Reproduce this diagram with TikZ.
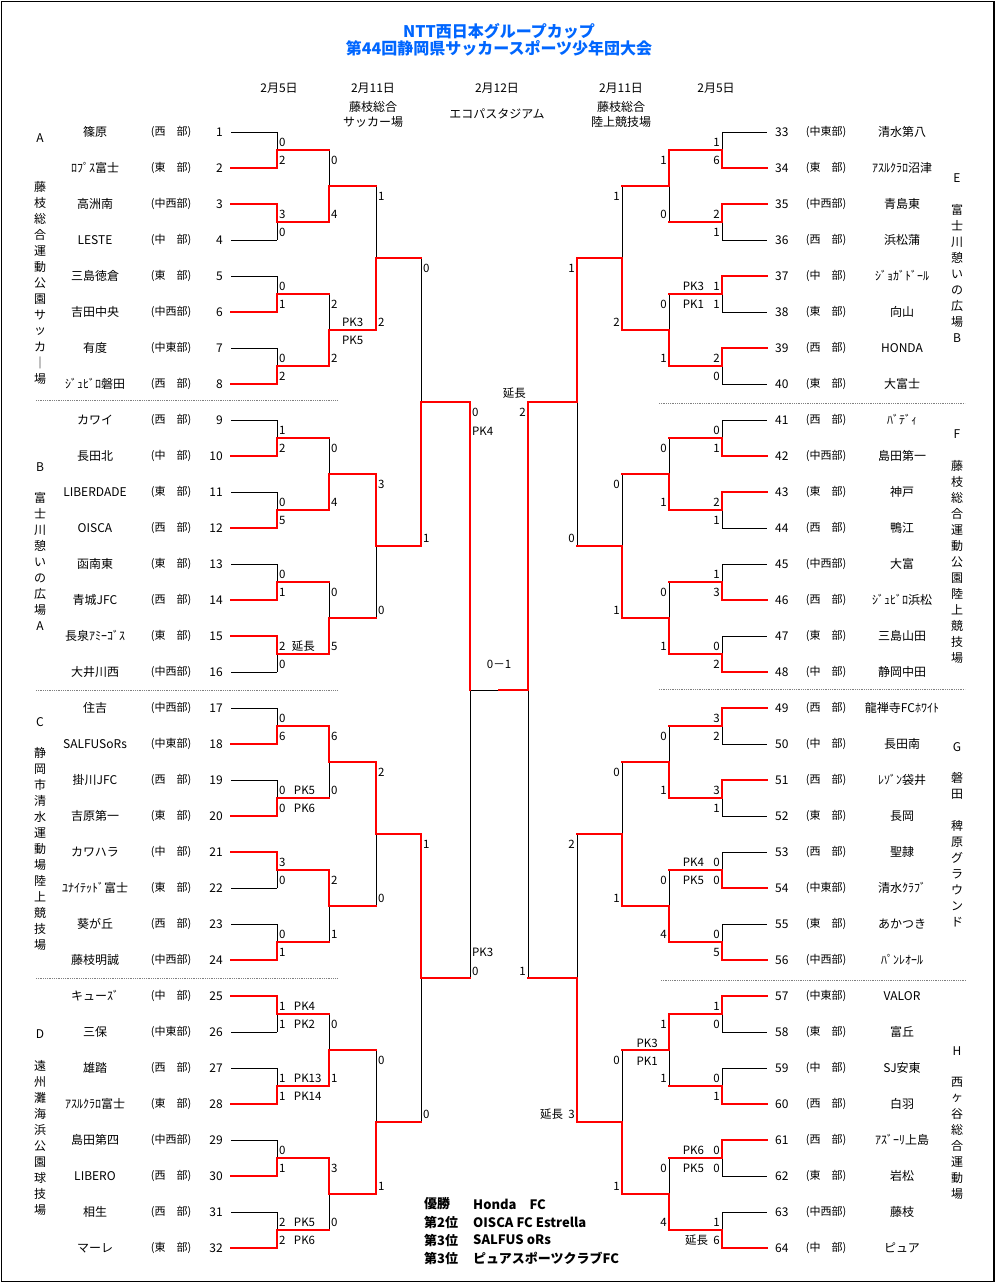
\documentclass[tikz,border=0pt]{standalone}
\usepackage{fontspec}
\setmainfont{Noto Sans CJK JP}
\usetikzlibrary{positioning}
\definecolor{winred}{RGB}{255,0,0}
\definecolor{titleblue}{RGB}{0,102,255}
\pgfdeclarelayer{bg}
\pgfsetlayers{bg,main}
\tikzset{
  lose/.style={draw=black, line width=0.9pt},
  win/.style={draw=winred, line width=2pt, line cap=rect},
  score/.style={font=\fontsize{11.5}{12}\selectfont, inner sep=0pt},
  numtxt/.style={font=\fontsize{12}{12}\selectfont, inner sep=0pt},
  team/.style={font=\fontsize{12}{12}\selectfont, inner sep=0pt},
  divtxt/.style={font=\fontsize{11}{11}\selectfont, inner sep=0pt},
  venue/.style={font=\fontsize{12}{12}\selectfont, inner sep=0pt},
  head/.style={font=\fontsize{12}{12}\selectfont, inner sep=0pt},
  ttl/.style={font=\fontsize{16}{16}\selectfont\bfseries, text=titleblue, inner sep=0pt},
  result/.style={font=\fontsize{13}{13}\selectfont\bfseries, inner sep=0pt, anchor=west},
  divline/.style={draw=gray, densely dotted, line width=0.8pt}
}
% #1 name, #2 x, #3 top y, #4 bottom y, #5 next x, #6 winner t/b, #7 top score, #8 bottom score
\newcommand{\bkmatch}[8]{%
  \pgfmathsetmacro\ymid{(#3+#4)/2}%
  \coordinate (#1t) at (#2,#3);
  \coordinate (#1b) at (#2,#4);
  \coordinate (#1m) at (#2,\ymid);
  \coordinate (#1) at (#5,\ymid);
  \begin{pgfonlayer}{bg}\draw[lose] (#1t) -- (#1b);\end{pgfonlayer}
  \if t#6\draw[win] (#1t) -- (#1m) -- (#1);\else\draw[win] (#1b) -- (#1m) -- (#1);\fi
  \ifdim #2pt<499pt
    \node[score,anchor=west] (#1st) at (#2+2,#3+10) {#7};
    \node[score,anchor=west] (#1sb) at (#2+2,#4-8) {#8};
  \else
    \node[score,anchor=east] (#1st) at (#2-2,#3+10) {#7};
    \node[score,anchor=east] (#1sb) at (#2-2,#4-8) {#8};
  \fi
}

\begin{document}
\begin{tikzpicture}[x=1pt, y=-1pt]
  \useasboundingbox (0,0) rectangle (998,1284);
  \draw[line width=1.2pt] (1.5,1.5) rectangle (994,1281.5);

  % title and headings
  \node[ttl] (title1) at (499,31) {NTT西日本グループカップ};
  \node[ttl] (title2) at (499,48) {第44回静岡県サッカースポーツ少年団大会};
  \node[head] (d1) at (279,88) {2月5日};
  \node[head] (d2) at (373,88) {2月11日};
  \node[head] (v2a) at (373,107) {藤枝総合};
  \node[head] (v2b) at (373,122) {サッカー場};
  \node[head] (d3) at (497,88) {2月12日};
  \node[head] (v3) at (497,114) {エコパスタジアム};
  \node[head] (d4) at (621,88) {2月11日};
  \node[head] (v4a) at (621,107) {藤枝総合};
  \node[head] (v4b) at (621,122) {陸上競技場};
  \node[head] (d5) at (716,88) {2月5日};

  % left teams
  \foreach \i/\nm/\dv/\c in {1/篠原/西　部/lose, 2/ﾛﾌﾟｽ富士/東　部/win, 3/高洲南/中西部/win, 4/LESTE/中　部/lose,
      5/三島徳倉/東　部/lose, 6/吉田中央/中西部/win, 7/有度/中東部/lose, 8/ｼﾞｭﾋﾞﾛ磐田/西　部/win,
      9/カワイ/西　部/lose, 10/長田北/中　部/win, 11/LIBERDADE/東　部/lose, 12/OISCA/西　部/win,
      13/函南東/東　部/lose, 14/青城JFC/西　部/win, 15/長泉ｱﾐｰｺﾞｽ/東　部/win, 16/大井川西/中西部/lose,
      17/住吉/中西部/lose, 18/SALFUSoRs/中東部/win, 19/掛川JFC/西　部/lose, 20/吉原第一/東　部/win,
      21/カワハラ/中　部/win, 22/ﾕﾅｲﾃｯﾄﾞ富士/東　部/lose, 23/葵が丘/西　部/lose, 24/藤枝明誠/中西部/win,
      25/キューｽﾞ/中　部/win, 26/三保/中東部/lose, 27/雄踏/西　部/lose, 28/ｱｽﾙｸﾗﾛ富士/東　部/win,
      29/島田第四/中西部/lose, 30/LIBERO/西　部/win, 31/相生/西　部/lose, 32/マーレ/東　部/win} {
    \pgfmathsetmacro\yy{132+36*(\i-1)}
    \node[team] (tn\i) at (95,\yy) {\nm};
    \node[divtxt] (td\i) at (171,\yy) {(\dv)};
    \node[numtxt,anchor=east] (tc\i) at (223,\yy) {\i};
    \coordinate (tl\i) at (231,\yy);
    \coordinate (tj\i) at (277,\yy);
    \draw[\c] (tl\i) -- (tj\i);
  }

  % right teams
  \foreach \i/\nm/\dv/\c in {33/清水第八/中東部/lose, 34/ｱｽﾙｸﾗﾛ沼津/東　部/win, 35/青島東/中西部/win, 36/浜松蒲/西　部/lose,
      37/ｼﾞｮｶﾞﾄﾞｰﾙ/中　部/win, 38/向山/東　部/lose, 39/HONDA/西　部/win, 40/大富士/東　部/lose,
      41/ﾊﾞﾃﾞｨ/西　部/lose, 42/島田第一/中西部/win, 43/神戸/東　部/win, 44/鴨江/西　部/lose,
      45/大富/中西部/lose, 46/ｼﾞｭﾋﾞﾛ浜松/西　部/win, 47/三島山田/東　部/lose, 48/静岡中田/中　部/win,
      49/龍禅寺FCﾎﾜｲﾄ/西　部/win, 50/長田南/中　部/lose, 51/ﾚｿﾞﾝ袋井/西　部/win, 52/長岡/東　部/lose,
      53/聖隷/西　部/lose, 54/清水ｸﾗﾌﾞ/中東部/win, 55/あかつき/東　部/lose, 56/ﾊﾟﾝﾚｵｰﾙ/中西部/win,
      57/VALOR/中東部/win, 58/富丘/東　部/lose, 59/SJ安東/中　部/lose, 60/白羽/西　部/win,
      61/ｱｽﾞｰﾘ上島/西　部/win, 62/岩松/東　部/lose, 63/藤枝/中西部/lose, 64/ピュア/中　部/win} {
    \pgfmathsetmacro\yy{132+36*(\i-33)}
    \node[numtxt,anchor=west] (tc\i) at (775,\yy) {\i};
    \node[divtxt] (td\i) at (826,\yy) {(\dv)};
    \node[team] (tn\i) at (902,\yy) {\nm};
    \coordinate (tl\i) at (767,\yy);
    \coordinate (tj\i) at (722,\yy);
    \draw[\c] (tj\i) -- (tl\i);
  }

  % blocks and venues
  \node[venue] (bA) at (40,138) {A};
  \foreach \ch [count=\n] in {藤,枝,総,合,運,動,公,園,サ,ッ,カ,｜,場}
    \node[venue] (vA\n) at (40,{187+16*(\n-1)}) {\ch};
  \node[venue] (bB) at (40,467) {B};
  \foreach \ch [count=\n] in {富,士,川,憩,い,の,広,場,A}
    \node[venue] (vB\n) at (40,{498+16*(\n-1)}) {\ch};
  \node[venue] (bC) at (40,722) {C};
  \foreach \ch [count=\n] in {静,岡,市,清,水,運,動,場,陸,上,競,技,場}
    \node[venue] (vC\n) at (40,{753+16*(\n-1)}) {\ch};
  \node[venue] (bD) at (40,1034) {D};
  \foreach \ch [count=\n] in {遠,州,灘,海,浜,公,園,球,技,場}
    \node[venue] (vD\n) at (40,{1066+16*(\n-1)}) {\ch};
  \node[venue] (bE) at (957,178) {E};
  \foreach \ch [count=\n] in {富,士,川,憩,い,の,広,場,B}
    \node[venue] (vE\n) at (957,{210+16*(\n-1)}) {\ch};
  \node[venue] (bF) at (957,434) {F};
  \foreach \ch [count=\n] in {藤,枝,総,合,運,動,公,園,陸,上,競,技,場}
    \node[venue] (vF\n) at (957,{466+16*(\n-1)}) {\ch};
  \node[venue] (bG) at (957,747) {G};
  \foreach \ch [count=\n] in {磐,田,　,稗,原,グ,ラ,ウ,ン,ド}
    \node[venue] (vG\n) at (957,{778+16*(\n-1)}) {\ch};
  \node[venue] (bH) at (957,1051) {H};
  \foreach \ch [count=\n] in {西,ヶ,谷,総,合,運,動,場}
    \node[venue] (vH\n) at (957,{1082+16*(\n-1)}) {\ch};

  % dotted separators
  \draw[divline] (36,400) -- (338,400);
  \draw[divline] (36,690) -- (338,690);
  \draw[divline] (36,978) -- (338,978);
  \draw[divline] (659,403) -- (965,403);
  \draw[divline] (659,689) -- (965,689);
  \draw[divline] (661,980) -- (966,980);

  % left, first round
  \bkmatch{la1}{277}{132}{168}{329}{b}{0}{2}
  \bkmatch{la2}{277}{204}{240}{329}{t}{3}{0}
  \bkmatch{la3}{277}{276}{312}{329}{b}{0}{1}
  \bkmatch{la4}{277}{348}{384}{329}{b}{0}{2}
  \bkmatch{la5}{277}{420}{456}{329}{b}{1}{2}
  \bkmatch{la6}{277}{492}{528}{329}{b}{0}{5}
  \bkmatch{la7}{277}{564}{600}{329}{b}{0}{1}
  \bkmatch{la8}{277}{636}{672}{329}{t}{2}{0}
  \bkmatch{la9}{277}{708}{744}{329}{b}{0}{6}
  \bkmatch{la10}{277}{780}{816}{329}{b}{0}{0}
  \bkmatch{la11}{277}{852}{888}{329}{t}{3}{0}
  \bkmatch{la12}{277}{924}{960}{329}{b}{0}{1}
  \bkmatch{la13}{277}{996}{1032}{329}{t}{1}{1}
  \bkmatch{la14}{277}{1068}{1104}{329}{b}{1}{1}
  \bkmatch{la15}{277}{1140}{1176}{329}{b}{0}{1}
  \bkmatch{la16}{277}{1212}{1248}{329}{b}{2}{2}
  % left, later rounds
  \bkmatch{lb1}{329}{150}{222}{376}{b}{0}{4}
  \bkmatch{lb2}{329}{294}{366}{376}{b}{2}{2}
  \bkmatch{lb3}{329}{438}{510}{376}{b}{0}{4}
  \bkmatch{lb4}{329}{582}{654}{376}{b}{0}{5}
  \bkmatch{lb5}{329}{726}{798}{376}{t}{6}{0}
  \bkmatch{lb6}{329}{870}{942}{376}{t}{2}{1}
  \bkmatch{lb7}{329}{1014}{1086}{376}{b}{0}{1}
  \bkmatch{lb8}{329}{1158}{1230}{376}{t}{3}{0}
  \bkmatch{lc1}{376}{186}{330}{421}{b}{1}{2}
  \bkmatch{lc2}{376}{474}{618}{421}{t}{3}{0}
  \bkmatch{lc3}{376}{762}{906}{421}{t}{2}{0}
  \bkmatch{lc4}{376}{1050}{1194}{421}{b}{0}{1}
  \bkmatch{ld1}{421}{258}{546}{470}{b}{0}{1}
  \bkmatch{ld2}{421}{834}{1122}{470}{t}{1}{0}

  % right, first round
  \bkmatch{ra1}{722}{132}{168}{669}{b}{1}{6}
  \bkmatch{ra2}{722}{204}{240}{669}{t}{2}{1}
  \bkmatch{ra3}{722}{276}{312}{669}{t}{1}{1}
  \bkmatch{ra4}{722}{348}{384}{669}{t}{2}{0}
  \bkmatch{ra5}{722}{420}{456}{669}{b}{0}{1}
  \bkmatch{ra6}{722}{492}{528}{669}{t}{2}{1}
  \bkmatch{ra7}{722}{564}{600}{669}{b}{1}{3}
  \bkmatch{ra8}{722}{636}{672}{669}{b}{0}{2}
  \bkmatch{ra9}{722}{708}{744}{669}{t}{3}{2}
  \bkmatch{ra10}{722}{780}{816}{669}{t}{3}{1}
  \bkmatch{ra11}{722}{852}{888}{669}{b}{0}{0}
  \bkmatch{ra12}{722}{924}{960}{669}{b}{0}{5}
  \bkmatch{ra13}{722}{996}{1032}{669}{t}{1}{0}
  \bkmatch{ra14}{722}{1068}{1104}{669}{b}{0}{1}
  \bkmatch{ra15}{722}{1140}{1176}{669}{t}{0}{0}
  \bkmatch{ra16}{722}{1212}{1248}{669}{b}{1}{6}
  % right, later rounds
  \bkmatch{rb1}{669}{150}{222}{622}{t}{1}{0}
  \bkmatch{rb2}{669}{294}{366}{622}{b}{0}{1}
  \bkmatch{rb3}{669}{438}{510}{622}{b}{0}{1}
  \bkmatch{rb4}{669}{582}{654}{622}{b}{0}{1}
  \bkmatch{rb5}{669}{726}{798}{622}{b}{0}{1}
  \bkmatch{rb6}{669}{870}{942}{622}{b}{0}{4}
  \bkmatch{rb7}{669}{1014}{1086}{622}{t}{1}{1}
  \bkmatch{rb8}{669}{1158}{1230}{622}{b}{0}{4}
  \bkmatch{rc1}{622}{186}{330}{577}{b}{1}{2}
  \bkmatch{rc2}{622}{474}{618}{577}{b}{0}{1}
  \bkmatch{rc3}{622}{762}{906}{577}{b}{0}{1}
  \bkmatch{rc4}{622}{1050}{1194}{577}{b}{0}{1}
  \bkmatch{rd1}{577}{258}{546}{528}{t}{1}{0}
  \bkmatch{rd2}{577}{834}{1122}{528}{b}{2}{3}

  % semifinals and final
  \coordinate (lst) at (470,402);
  \coordinate (lsb) at (470,978);
  \coordinate (lsm) at (470,690);
  \coordinate (rst) at (528,402);
  \coordinate (rsb) at (528,978);
  \coordinate (rsm) at (528,690);
  \coordinate (fm) at (499,690);
  \begin{pgfonlayer}{bg}
    \draw[lose] (lst) -- (lsb);
    \draw[lose] (rst) -- (rsb);
    \draw[lose] (lsm) -- (rsm);
  \end{pgfonlayer}
  \draw[win] (lst) -- (lsm);
  \draw[win] (rst) -- (rsm) -- (fm);
  \node[score,anchor=west] (ls1) at (472,412) {0};
  \node[score,anchor=west] (ls2) at (472,431) {PK4};
  \node[score,anchor=west] (ls3) at (472,952) {PK3};
  \node[score,anchor=west] (ls4) at (472,971) {0};
  \node[score,anchor=east] (rs1) at (526,393) {延長};
  \node[score,anchor=east] (rs2) at (526,412) {2};
  \node[score,anchor=east] (rs3) at (526,971) {1};
  \node[score] (fin) at (499,664) {0－1};

  % extra time and penalties
  \node[score,right=6pt of la8st] (x1) {延長};
  \node[score,right=8pt of la10st] (x2) {PK5};
  \node[score,right=8pt of la10sb] (x3) {PK6};
  \node[score,right=8pt of la13st] (x4) {PK4};
  \node[score,right=8pt of la13sb] (x5) {PK2};
  \node[score,right=8pt of la14st] (x6) {PK13};
  \node[score,right=8pt of la14sb] (x7) {PK14};
  \node[score,right=8pt of la16st] (x8) {PK5};
  \node[score,right=8pt of la16sb] (x9) {PK6};
  \node[score,anchor=west] (x10) at (342,322) {PK3};
  \node[score,anchor=west] (x11) at (342,340) {PK5};
  \node[score,left=9pt of ra3st] (y1) {PK3};
  \node[score,left=9pt of ra3sb] (y2) {PK1};
  \node[score,left=9pt of ra11st] (y3) {PK4};
  \node[score,left=9pt of ra11sb] (y4) {PK5};
  \node[score,left=9pt of ra15st] (y5) {PK6};
  \node[score,left=9pt of ra15sb] (y6) {PK5};
  \node[score,left=5pt of ra16sb] (y7) {延長};
  \node[score,anchor=east] (y8) at (658,1043) {PK3};
  \node[score,anchor=east] (y9) at (658,1061) {PK1};
  \node[score,left=5pt of rd2sb] (y10) {延長};

  % final standings
  \node[result] (p1) at (424,1204) {優勝};
  \node[result] (w1) at (473,1204) {Honda　FC};
  \node[result] (p2) at (424,1222) {第2位};
  \node[result] (w2) at (473,1222) {OISCA FC Estrella};
  \node[result] (p3) at (424,1240) {第3位};
  \node[result] (w3) at (473,1240) {SALFUS oRs};
  \node[result] (p4) at (424,1258) {第3位};
  \node[result] (w4) at (473,1258) {ピュアスポーツクラブFC};
\end{tikzpicture}
\end{document}
